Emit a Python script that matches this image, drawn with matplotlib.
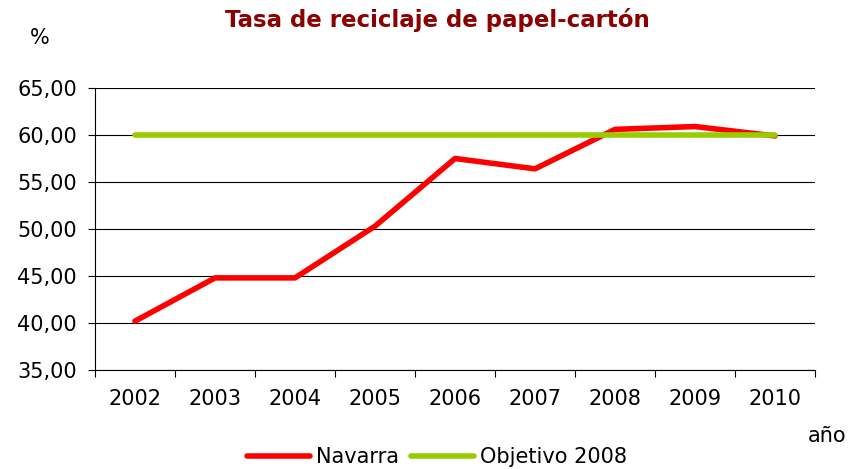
import numpy as np
import matplotlib.pyplot as plt

years = ['2002', '2003', '2004', '2005', '2006', '2007', '2008', '2009', '2010']
navarra = [40.2, 44.8, 44.8, 50.3, 57.5, 56.4, 60.6, 60.9, 59.9]
objetivo = [60.0] * len(years)
yticks = [35, 40, 45, 50, 55, 60, 65]

fig = plt.figure(figsize=(8.48, 4.69), dpi=100)
ax = fig.add_axes([95 / 848, 1 - 370 / 469, 720 / 848, 282 / 469])

x = np.arange(len(years))
ax.plot(x, navarra, color='#ff0000', lw=4, solid_capstyle='round',
        solid_joinstyle='round', label='Navarra', zorder=3)
ax.plot(x, objetivo, color='#99cc00', lw=4, solid_capstyle='round',
        label='Objetivo 2008', zorder=4)

ax.set_xlim(-0.5, len(years) - 0.5)
ax.set_ylim(35, 65)
ax.set_yticks(yticks)
ax.set_yticklabels(['%d,00' % v for v in yticks])
ax.yaxis.grid(True, color='black', lw=0.8)
ax.set_axisbelow(True)
ax.set_xticks(x)
ax.set_xticklabels(years)
ax.set_xticks(np.arange(-0.5, len(years)), minor=True)
ax.tick_params(axis='x', which='major', length=0, pad=14, labelsize=15)
ax.tick_params(axis='x', which='minor', length=5, width=0.8)
ax.tick_params(axis='y', length=5, width=0.8, pad=8, labelsize=15)
for s in ['top', 'right']:
    ax.spines[s].set_visible(False)
ax.spines['left'].set_linewidth(0.8)
ax.spines['bottom'].set_linewidth(0.8)

fig.text(437 / 848, 1 - 20 / 469, 'Tasa de reciclaje de papel-cartón', ha='center', va='center',
         fontsize=16.5, fontweight='bold', color='#8b0000')
fig.text(40 / 848, 1 - 38 / 469, '%', ha='center', va='center', fontsize=15)
fig.text(846 / 848, 1 - 436 / 469, 'año', ha='right', va='center', fontsize=15)

fig.legend(loc='center', bbox_to_anchor=(437 / 848, 1 - 457 / 469), ncol=2, frameon=False,
           fontsize=15, handlelength=3.0, handletextpad=0.3, columnspacing=0.6,
           borderpad=0, borderaxespad=0)

fig.savefig('out.png', dpi=100)
